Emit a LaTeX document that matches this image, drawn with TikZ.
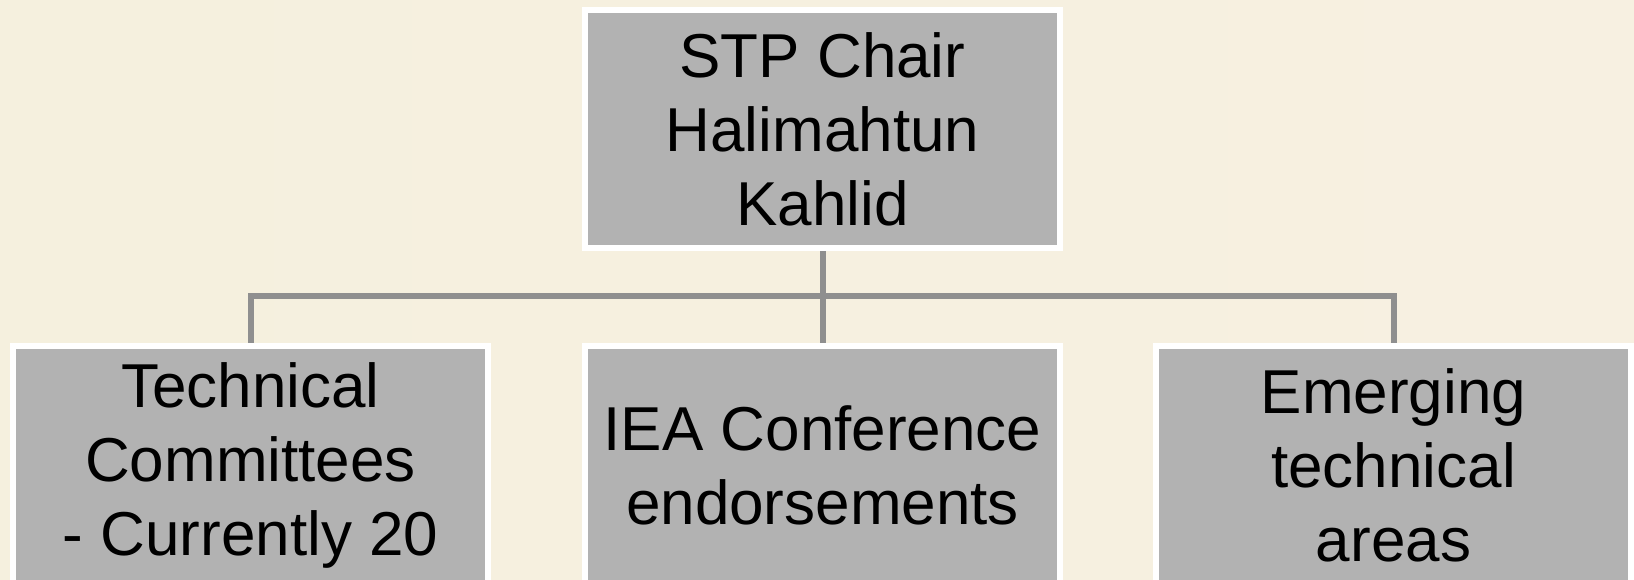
\documentclass[tikz,border=0pt]{standalone}
\usepackage{fontspec}
\setmainfont{Liberation Sans}
\definecolor{bgleft}{RGB}{245,240,222}
\definecolor{bgright}{RGB}{247,240,225}
\definecolor{boxgray}{RGB}{178,178,178}
\definecolor{linegray}{RGB}{143,143,143}
\tikzset{
  orgbox/.style={draw=white, line width=3pt, fill=boxgray, rectangle,
    minimum width=237.5pt, minimum height=119pt, inner sep=0pt,
    align=center, text=black,
    font=\fontsize{31pt}{37pt}\selectfont},
  conn/.style={draw=linegray, line width=3pt}
}
\begin{document}
\begin{tikzpicture}[x=0.5pt,y=-0.5pt]
\useasboundingbox (0,0) rectangle (1634,579);
\clip (0,0) rectangle (1634,579);
\shade[left color=bgleft, right color=bgright] (0,0) rectangle (1634,579);
\coordinate (bus) at (822.5,296);
\node[orgbox] (chair) at (822.5,129) {STP Chair\\Halimahtun\\Kahlid};
\node[orgbox] (tc) at (250.5,465) {Technical\\Committees\\- Currently 20};
\node[orgbox] (iea) at (822.5,465) {IEA Conference\\endorsements};
\node[orgbox] (eta) at (1393.5,465) {Emerging\\technical\\areas};
\draw[conn] (chair.south) -- (iea.north);
\draw[conn] (bus) -| (tc.north);
\draw[conn] (bus) -| (eta.north);
\end{tikzpicture}
\end{document}
